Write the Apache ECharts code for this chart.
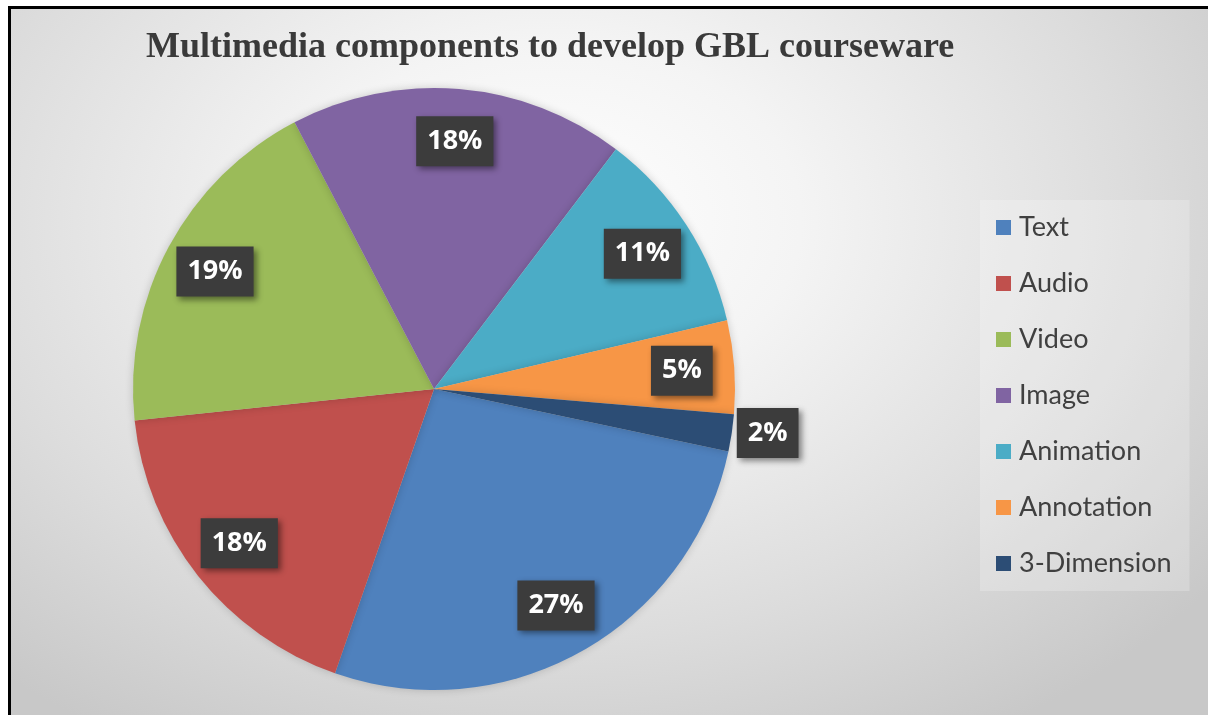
<!DOCTYPE html>
<html>
<head>
<meta charset="utf-8">
<script src="https://cdn.jsdelivr.net/npm/echarts@6/dist/echarts.min.js"></script>
<style>
  html, body { margin: 0; padding: 0; background: #ffffff; }
  #frame {
    position: absolute; left: 8px; top: 6px; width: 1200px; height: 709px;
    border-top: 3px solid #000; border-left: 3px solid #000;
    box-sizing: border-box;
    background: radial-gradient(ellipse 70% 85% at 45% 30%, #ffffff 0%, #f4f4f4 30%, #dcdcdc 70%, #c8c8c8 100%);
  }
  #chart { position: absolute; left: 0; top: 0; width: 1208px; height: 715px; }
</style>
</head>
<body>
<div id="frame"></div>
<div id="chart"></div>
<script>
const titleText = 'Multimedia components to develop GBL courseware';
const categories = ['Text', 'Audio', 'Video', 'Image', 'Animation', 'Annotation', '3-Dimension'];
const values = [27, 18, 19, 18, 11, 5, 2];
const colors = ['#4f81bd', '#c0504d', '#9bbb59', '#8064a2', '#4bacc6', '#f79646', '#2c4d75'];

const sliceData = categories.map((name, i) => ({
  name: name, value: values[i], itemStyle: { color: colors[i] }
}));

const labelStyle = {
  show: true,
  position: 'inside',
  formatter: '{c}%',
  color: '#ffffff',
  fontFamily: '"Open Sans", sans-serif',
  fontWeight: 'bold',
  fontSize: 27,
  lineHeight: 34,
  backgroundColor: '#3c3c3c',
  padding: [8, 11, 8, 11],
  shadowBlur: 6,
  shadowColor: 'rgba(0,0,0,0.45)',
  shadowOffsetX: 3,
  shadowOffsetY: 3
};

const labelData = categories.map((name, i) => {
  const d = { name: name, value: values[i] };
  if (values[i] < 3) {
    d.label = { position: 'outside' };
    d.labelLine = { show: false, length: 0, length2: 0 };
  }
  return d;
});

const chart = echarts.init(document.getElementById('chart'), null, { renderer: 'canvas' });
chart.setOption({
  backgroundColor: 'transparent',
  animation: false,
  title: {
    text: titleText,
    left: 141,
    top: 25,
    textStyle: {
      fontFamily: '"Liberation Serif", "Times New Roman", serif',
      fontWeight: 'bold',
      fontSize: 36,
      color: '#3a3a3a'
    }
  },
  legend: {
    orient: 'vertical',
    left: 980,
    top: 200,
    padding: [12, 18, 12, 16],
    backgroundColor: 'rgba(255,255,255,0.22)',
    data: categories,
    icon: 'rect',
    itemWidth: 15,
    itemHeight: 15,
    itemGap: 25,
    textStyle: {
      fontFamily: 'Lato, sans-serif',
      fontSize: 27,
      lineHeight: 31,
      color: '#404040',
      padding: [0, 0, 0, 3]
    }
  },
  series: [
    {
      name: 'slices',
      type: 'pie',
      center: [434, 389],
      radius: [0, 301],
      startAngle: -12,
      clockwise: true,
      data: sliceData,
      label: { show: false },
      labelLine: { show: false },
      itemStyle: { borderWidth: 0, shadowBlur: 8, shadowColor: 'rgba(0,0,0,0.18)' },
      emphasis: { disabled: true }
    },
    {
      name: 'labels',
      type: 'pie',
      center: [434, 389],
      radius: [190, 301],
      startAngle: -12,
      clockwise: true,
      silent: true,
      data: labelData,
      itemStyle: { color: 'rgba(0,0,0,0)' },
      label: labelStyle,
      labelLine: { show: false },
      avoidLabelOverlap: false,
      emphasis: { disabled: true }
    }
  ]
});
</script>
</body>
</html>
